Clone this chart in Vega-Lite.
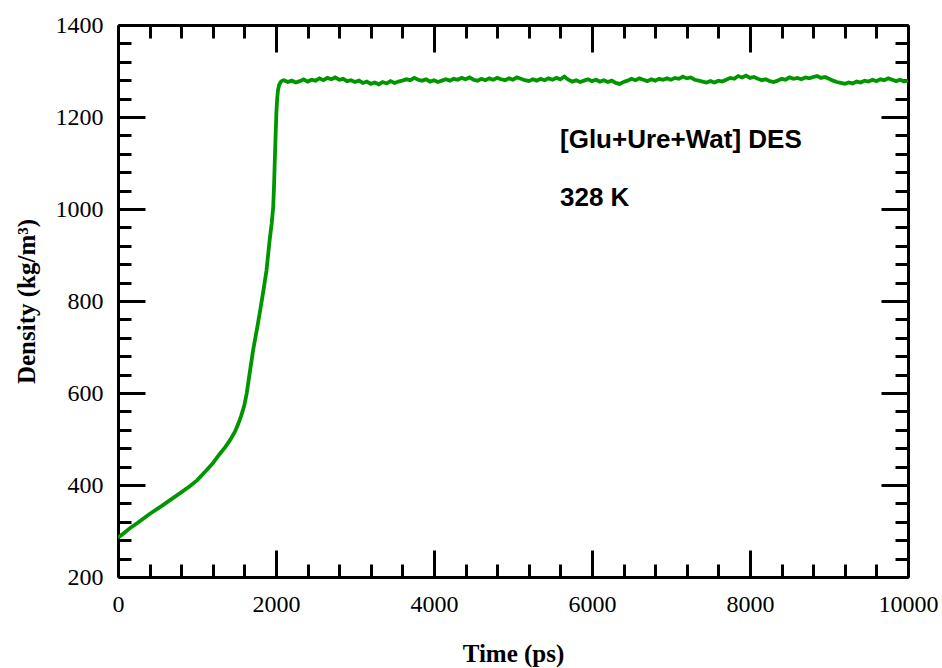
{
  "$schema": "https://vega.github.io/schema/vega-lite/v6.json",
  "width": 790,
  "height": 552,
  "autosize": "none",
  "padding": {"left": 118, "top": 25, "right": 34, "bottom": 91},
  "background": "white",
  "config": {"view": {"stroke": null}},
  "datasets": {
    "density": [
      {"time": 0, "density": 286}, {"time": 50, "density": 292}, {"time": 100, "density": 299},
      {"time": 150, "density": 306}, {"time": 250, "density": 318}, {"time": 400, "density": 337},
      {"time": 550, "density": 354}, {"time": 700, "density": 372}, {"time": 900, "density": 396},
      {"time": 1000, "density": 410}, {"time": 1120, "density": 432}, {"time": 1200, "density": 447},
      {"time": 1290, "density": 468}, {"time": 1360, "density": 483}, {"time": 1420, "density": 498},
      {"time": 1480, "density": 516}, {"time": 1520, "density": 532}, {"time": 1560, "density": 551},
      {"time": 1600, "density": 574}, {"time": 1630, "density": 600}, {"time": 1660, "density": 635},
      {"time": 1710, "density": 693}, {"time": 1760, "density": 740}, {"time": 1800, "density": 780},
      {"time": 1840, "density": 822}, {"time": 1880, "density": 867}, {"time": 1920, "density": 933},
      {"time": 1945, "density": 968}, {"time": 1965, "density": 1005}, {"time": 1975, "density": 1050},
      {"time": 1985, "density": 1106}, {"time": 1995, "density": 1160}, {"time": 2005, "density": 1210},
      {"time": 2015, "density": 1240}, {"time": 2025, "density": 1258}, {"time": 2040, "density": 1270},
      {"time": 2060, "density": 1276}, {"time": 2080, "density": 1279},
      {"time": 2100, "density": 1280}, {"time": 2150, "density": 1276}, {"time": 2200, "density": 1279},
      {"time": 2250, "density": 1275}, {"time": 2300, "density": 1278}, {"time": 2350, "density": 1282},
      {"time": 2400, "density": 1277}, {"time": 2450, "density": 1281}, {"time": 2500, "density": 1279},
      {"time": 2550, "density": 1284}, {"time": 2600, "density": 1280}, {"time": 2650, "density": 1285},
      {"time": 2700, "density": 1282}, {"time": 2750, "density": 1286}, {"time": 2800, "density": 1281},
      {"time": 2850, "density": 1283}, {"time": 2900, "density": 1278}, {"time": 2950, "density": 1280},
      {"time": 3000, "density": 1276}, {"time": 3050, "density": 1279}, {"time": 3100, "density": 1274},
      {"time": 3150, "density": 1277}, {"time": 3200, "density": 1272}, {"time": 3250, "density": 1275},
      {"time": 3300, "density": 1271}, {"time": 3350, "density": 1276}, {"time": 3400, "density": 1273},
      {"time": 3450, "density": 1278}, {"time": 3500, "density": 1274}, {"time": 3550, "density": 1277},
      {"time": 3600, "density": 1279}, {"time": 3650, "density": 1282}, {"time": 3700, "density": 1280},
      {"time": 3750, "density": 1285}, {"time": 3800, "density": 1281}, {"time": 3850, "density": 1279},
      {"time": 3900, "density": 1282}, {"time": 3950, "density": 1277}, {"time": 4000, "density": 1280},
      {"time": 4050, "density": 1276}, {"time": 4100, "density": 1279}, {"time": 4150, "density": 1282},
      {"time": 4200, "density": 1279}, {"time": 4250, "density": 1283}, {"time": 4300, "density": 1281},
      {"time": 4350, "density": 1285}, {"time": 4400, "density": 1282}, {"time": 4450, "density": 1286},
      {"time": 4500, "density": 1281}, {"time": 4550, "density": 1279}, {"time": 4600, "density": 1283},
      {"time": 4650, "density": 1280}, {"time": 4700, "density": 1284}, {"time": 4750, "density": 1281},
      {"time": 4800, "density": 1285}, {"time": 4850, "density": 1282}, {"time": 4900, "density": 1280},
      {"time": 4950, "density": 1284}, {"time": 5000, "density": 1281}, {"time": 5050, "density": 1286},
      {"time": 5100, "density": 1283}, {"time": 5150, "density": 1280}, {"time": 5200, "density": 1278},
      {"time": 5250, "density": 1282}, {"time": 5300, "density": 1279}, {"time": 5350, "density": 1283},
      {"time": 5400, "density": 1280}, {"time": 5450, "density": 1284}, {"time": 5500, "density": 1281},
      {"time": 5550, "density": 1285}, {"time": 5600, "density": 1282}, {"time": 5650, "density": 1288},
      {"time": 5700, "density": 1281}, {"time": 5750, "density": 1277}, {"time": 5800, "density": 1280},
      {"time": 5850, "density": 1276}, {"time": 5900, "density": 1279}, {"time": 5950, "density": 1282},
      {"time": 6000, "density": 1278}, {"time": 6050, "density": 1281}, {"time": 6100, "density": 1277},
      {"time": 6150, "density": 1280}, {"time": 6200, "density": 1276}, {"time": 6250, "density": 1279},
      {"time": 6300, "density": 1274}, {"time": 6350, "density": 1272}, {"time": 6400, "density": 1276},
      {"time": 6450, "density": 1279}, {"time": 6500, "density": 1283}, {"time": 6550, "density": 1280},
      {"time": 6600, "density": 1284}, {"time": 6650, "density": 1281}, {"time": 6700, "density": 1278},
      {"time": 6750, "density": 1282}, {"time": 6800, "density": 1279}, {"time": 6850, "density": 1283},
      {"time": 6900, "density": 1281}, {"time": 6950, "density": 1284}, {"time": 7000, "density": 1281},
      {"time": 7050, "density": 1285}, {"time": 7100, "density": 1283}, {"time": 7150, "density": 1288},
      {"time": 7200, "density": 1284}, {"time": 7250, "density": 1286}, {"time": 7300, "density": 1281},
      {"time": 7350, "density": 1279}, {"time": 7400, "density": 1277}, {"time": 7450, "density": 1275},
      {"time": 7500, "density": 1278}, {"time": 7550, "density": 1275}, {"time": 7600, "density": 1279},
      {"time": 7650, "density": 1277}, {"time": 7700, "density": 1281}, {"time": 7750, "density": 1285},
      {"time": 7800, "density": 1283}, {"time": 7850, "density": 1289}, {"time": 7900, "density": 1286},
      {"time": 7950, "density": 1290}, {"time": 8000, "density": 1285}, {"time": 8050, "density": 1287},
      {"time": 8100, "density": 1283}, {"time": 8150, "density": 1280}, {"time": 8200, "density": 1282},
      {"time": 8250, "density": 1278}, {"time": 8300, "density": 1276}, {"time": 8350, "density": 1279},
      {"time": 8400, "density": 1283}, {"time": 8450, "density": 1281}, {"time": 8500, "density": 1286},
      {"time": 8550, "density": 1283}, {"time": 8600, "density": 1285}, {"time": 8650, "density": 1282},
      {"time": 8700, "density": 1286}, {"time": 8750, "density": 1284}, {"time": 8800, "density": 1287},
      {"time": 8850, "density": 1289}, {"time": 8900, "density": 1285}, {"time": 8950, "density": 1287},
      {"time": 9000, "density": 1283}, {"time": 9050, "density": 1279}, {"time": 9100, "density": 1276},
      {"time": 9150, "density": 1274}, {"time": 9200, "density": 1272}, {"time": 9250, "density": 1275},
      {"time": 9300, "density": 1273}, {"time": 9350, "density": 1277}, {"time": 9400, "density": 1275},
      {"time": 9450, "density": 1279}, {"time": 9500, "density": 1277}, {"time": 9550, "density": 1281},
      {"time": 9600, "density": 1278}, {"time": 9650, "density": 1282}, {"time": 9700, "density": 1280},
      {"time": 9750, "density": 1284}, {"time": 9800, "density": 1281}, {"time": 9850, "density": 1278},
      {"time": 9900, "density": 1281}, {"time": 9950, "density": 1277}, {"time": 10000, "density": 1279}
    ],
    "notes": [
      {"time": 5595, "density": 1150, "text": "[Glu+Ure+Wat] DES"},
      {"time": 5595, "density": 1024, "text": "328 K"}
    ]
  },
  "layer": [
    {
      "data": {"name": "density"},
      "mark": {"type": "line", "color": "#009600", "strokeWidth": 3.8, "clip": true},
      "encoding": {
        "x": {
          "field": "time", "type": "quantitative",
          "scale": {"domain": [0, 10000], "nice": false, "zero": false},
          "axis": {
            "orient": "bottom",
            "values": [0,400,800,1200,1600,2000,2400,2800,3200,3600,4000,4400,4800,5200,5600,6000,6400,6800,7200,7600,8000,8400,8800,9200,9600,10000],
            "format": "d",
            "labelExpr": "datum.value % 2000 === 0 ? datum.label : ''",
            "tickSize": {"condition": {"test": "datum.value % 2000 === 0", "value": -27}, "value": -13},
            "tickWidth": 3, "tickColor": "black",
            "domainWidth": 3, "domainColor": "black",
            "labelFont": "Liberation Serif", "labelFontSize": 24, "labelColor": "black",
            "labelPadding": 42, "labelFlush": false, "labelOverlap": false,
            "grid": false,
            "title": "Time (ps)", "titleFont": "Liberation Serif", "titleFontSize": 25,
            "titleFontWeight": "bold", "titleColor": "black", "titlePadding": 11
          }
        },
        "y": {
          "field": "density", "type": "quantitative",
          "scale": {"domain": [200, 1400], "nice": false, "zero": false},
          "axis": {
            "orient": "left",
            "values": [200,240,280,320,360,400,440,480,520,560,600,640,680,720,760,800,840,880,920,960,1000,1040,1080,1120,1160,1200,1240,1280,1320,1360,1400],
            "format": "d",
            "labelExpr": "datum.value % 200 === 0 ? datum.label : ''",
            "tickSize": {"condition": {"test": "datum.value % 200 === 0", "value": -27}, "value": -13},
            "tickWidth": 3, "tickColor": "black",
            "domainWidth": 3, "domainColor": "black",
            "labelFont": "Liberation Serif", "labelFontSize": 24, "labelColor": "black",
            "labelPadding": 42, "labelFlush": false, "labelOverlap": false,
            "grid": false,
            "title": "Density (kg/m³)", "titleFont": "Liberation Serif", "titleFontSize": 25,
            "titleFontWeight": "bold", "titleColor": "black", "titlePadding": 16
          }
        }
      }
    },
    {
      "data": {"name": "density"},
      "mark": {"type": "line", "opacity": 0},
      "encoding": {
        "x": {
          "field": "time", "type": "quantitative",
          "axis": {
            "orient": "top",
            "values": [0,400,800,1200,1600,2000,2400,2800,3200,3600,4000,4400,4800,5200,5600,6000,6400,6800,7200,7600,8000,8400,8800,9200,9600,10000],
            "labels": false,
            "tickSize": {"condition": {"test": "datum.value % 2000 === 0", "value": -27}, "value": -13},
            "tickWidth": 3, "tickColor": "black",
            "domainWidth": 3, "domainColor": "black",
            "grid": false, "title": null
          }
        },
        "y": {
          "field": "density", "type": "quantitative",
          "axis": {
            "orient": "right",
            "values": [200,240,280,320,360,400,440,480,520,560,600,640,680,720,760,800,840,880,920,960,1000,1040,1080,1120,1160,1200,1240,1280,1320,1360,1400],
            "labels": false,
            "tickSize": {"condition": {"test": "datum.value % 200 === 0", "value": -27}, "value": -13},
            "tickWidth": 3, "tickColor": "black",
            "domainWidth": 3, "domainColor": "black",
            "grid": false, "title": null
          }
        }
      }
    },
    {
      "data": {"name": "notes"},
      "mark": {"type": "text", "align": "left", "baseline": "middle", "font": "Liberation Sans", "fontWeight": "bold", "fontSize": 26, "color": "black"},
      "encoding": {
        "x": {"field": "time", "type": "quantitative", "axis": null},
        "y": {"field": "density", "type": "quantitative", "axis": null},
        "text": {"field": "text"}
      }
    }
  ],
  "resolve": {"axis": {"x": "independent", "y": "independent"}}
}
